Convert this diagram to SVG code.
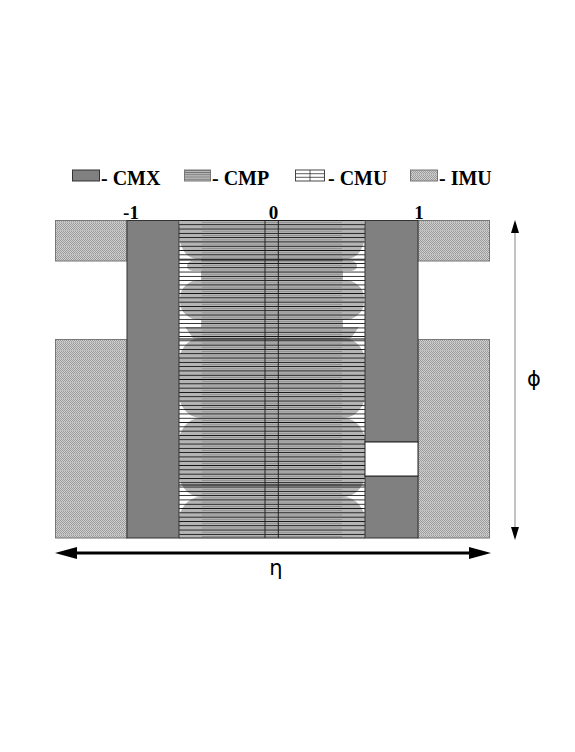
<svg xmlns="http://www.w3.org/2000/svg" width="575" height="752" viewBox="0 0 575 752">
<style>
.cmx{fill:#808080;stroke:#333;stroke-width:1}
.imu{fill:url(#imuPat);stroke:#777;stroke-width:1}
.lbl{font-family:"Liberation Serif",serif;font-weight:bold;fill:#000}
.lobe{fill:#b4b4b4}
.greek{font-family:"DejaVu Sans",sans-serif;fill:#000}
</style>
<defs>
<pattern id="imuPat" x="0" y="0" width="2" height="8" patternUnits="userSpaceOnUse">
<rect width="2" height="8" fill="#d0d0d0"/>
<rect width="1" height="1" fill="#9a9a9a"/><rect x="1" y="1" width="1" height="1" fill="#9a9a9a"/>
<rect y="2" width="1" height="1" fill="#9a9a9a"/><rect x="1" y="3" width="1" height="1" fill="#9a9a9a"/>
<rect y="4" width="1" height="1" fill="#9a9a9a"/><rect x="1" y="5" width="1" height="1" fill="#9a9a9a"/>
<rect y="6" width="2" height="1" fill="#bdbdbd"/><rect x="1" y="7" width="1" height="1" fill="#9a9a9a"/>
</pattern>
<pattern id="blackLines" x="0" y="220" width="10" height="4.3" patternUnits="userSpaceOnUse">
<rect y="0" width="10" height="0.8" fill="#000"/>
</pattern>
<pattern id="darkLines" x="0" y="222.2" width="10" height="4.3" patternUnits="userSpaceOnUse">
<rect y="0" width="10" height="0.8" fill="#8c8c8c"/>
</pattern>
<pattern id="cmpLeg" x="0" y="170" width="10" height="2.2" patternUnits="userSpaceOnUse">
<rect width="10" height="2.2" fill="#b8b8b8"/>
<rect width="10" height="0.8" fill="#707070"/>
</pattern>
<clipPath id="cmpClip"><rect x="179" y="220" width="186" height="318"/></clipPath>
<clipPath id="coreClip"><rect x="202" y="220" width="140" height="318"/></clipPath>
</defs>

<g id="legend">
<rect x="72.5" y="170" width="27" height="11" class="cmx"/>
<text x="101" y="184.5" class="lbl" font-size="20">- CMX</text>
<rect x="184.5" y="170" width="26" height="11" fill="url(#cmpLeg)" stroke="#777" stroke-width="1"/>
<text x="212" y="184.5" class="lbl" font-size="20">- CMP</text>
<rect x="295.5" y="170" width="29" height="11" fill="#fff" stroke="#333" stroke-width="0.9"/>
<path d="M295.5 173.7H324.5M295.5 177.3H324.5M310 170V181" stroke="#333" stroke-width="0.8" fill="none"/>
<text x="328" y="184.5" class="lbl" font-size="20">- CMU</text>
<rect x="410.5" y="170" width="27" height="11" class="imu"/>
<text x="439" y="184.5" class="lbl" font-size="20">- IMU</text>
</g>

<g id="axis-labels">
<text x="131" y="218.5" class="lbl" font-size="19" text-anchor="middle">-1</text>
<text x="273.5" y="218.5" class="lbl" font-size="19" text-anchor="middle">0</text>
<text x="419" y="218.5" class="lbl" font-size="19" text-anchor="middle">1</text>
</g>

<g id="imu">
<rect x="55.5" y="220.5" width="71.5" height="40.5" class="imu"/>
<rect x="418" y="220.5" width="71.5" height="40.5" class="imu"/>
<rect x="55.5" y="339.5" width="71.5" height="198.5" class="imu"/>
<rect x="418" y="339.5" width="71.5" height="198.5" class="imu"/>
</g>

<g id="cmp">
<rect x="179" y="220" width="186" height="318" fill="#fff"/>
<g clip-path="url(#cmpClip)">
<rect x="201" y="220" width="142" height="318" class="lobe"/>
<rect x="179" y="205" width="186" height="54" rx="18" ry="25" class="lobe"/>
<rect x="187" y="261" width="170" height="10" rx="6" ry="5" class="lobe"/>
<rect x="180" y="280" width="184" height="40" rx="20" ry="18" class="lobe"/>
<polygon points="185,327 359,327 351,338 193,338" class="lobe"/>
<rect x="178" y="338" width="188" height="80" rx="22" ry="28" class="lobe"/>
<rect x="178" y="418" width="188" height="79" rx="22" ry="28" class="lobe"/>
<rect x="178" y="497" width="188" height="80" rx="22" ry="28" class="lobe"/>
<rect x="202" y="220" width="140" height="318" fill="url(#darkLines)" clip-path="url(#coreClip)"/>
<rect x="179" y="220" width="186" height="318" fill="url(#blackLines)"/>
<path d="M179 260H365M179 339H365M179 379.5H365M179 485H365" stroke="#000" stroke-width="1.2" fill="none"/>
</g>
<path d="M265 220V538M278.3 220V538" stroke="#222" stroke-width="1" fill="none"/>
<path d="M179 538H365" stroke="#222" stroke-width="1.2" fill="none"/>
</g>

<g id="cmx">
<rect x="127" y="220.5" width="52" height="317.5" class="cmx"/>
<rect x="365" y="220.5" width="53" height="221.5" class="cmx"/>
<rect x="365" y="476" width="53" height="62" class="cmx"/>
<rect x="365" y="442" width="53" height="34" fill="#fff" stroke="#222" stroke-width="1"/>
</g>

<g id="connectors">
<line x1="70" y1="553" x2="476" y2="553" stroke="#000" stroke-width="3"/>
<polygon points="55,553 77,547 77,559" fill="#000"/>
<polygon points="491,553 469,547 469,559" fill="#000"/>
<line x1="515" y1="228" x2="515" y2="532" stroke="#999" stroke-width="1.2"/>
<polygon points="515,220 511,233 519,233" fill="#000"/>
<polygon points="515,540 511,527 519,527" fill="#000"/>
</g>

<g id="greek">
<text x="276" y="575" class="greek" font-size="21" text-anchor="middle">η</text>
<text x="534" y="386" class="greek" font-size="21" text-anchor="middle">ϕ</text>
</g>
</svg>
